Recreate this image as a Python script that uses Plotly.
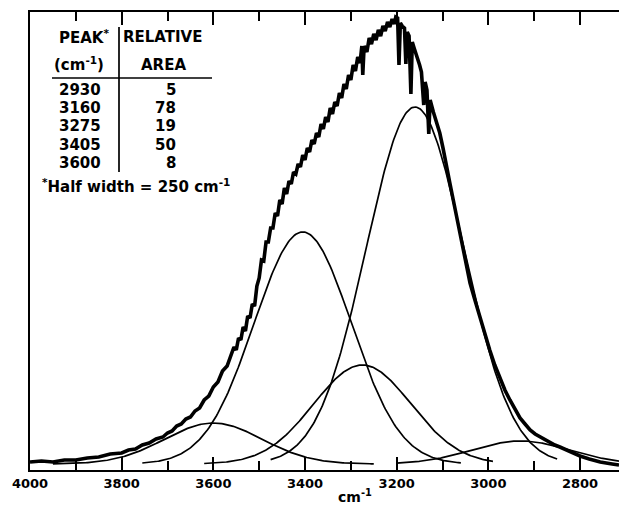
import numpy as np
import plotly.graph_objects as go

# ---- table / band parameters ----
peak_cm = [2930, 3160, 3275, 3405, 3600]
rel_area = [5, 78, 19, 50, 8]
band_height = [23, 357, 99, 232, 41]
half_width = 250
band_from = [3200, 3475, 3620, 3755, 3950]
band_to = [2715, 2850, 2990, 3060, 3250]

obs_cm = [4000, 3975, 3950, 3925, 3900, 3875, 3850, 3825, 3800, 3785, 3770, 3755, 3740, 3725,
          3710, 3700, 3690, 3680, 3670, 3660, 3650, 3640, 3630, 3620, 3610, 3600, 3590, 3580,
          3570, 3560, 3555, 3550, 3545, 3540, 3535, 3530, 3525, 3520, 3515, 3510, 3505, 3500,
          3495, 3490, 3485, 3480, 3475, 3470, 3465, 3460, 3455, 3450, 3445, 3440, 3435, 3430,
          3425, 3420, 3415, 3410, 3405, 3400, 3395, 3390, 3385, 3380, 3375, 3370, 3365, 3360,
          3355, 3350, 3345, 3340, 3335, 3330, 3325, 3320, 3315, 3310, 3305, 3300, 3295, 3290,
          3285, 3280, 3276, 3274, 3271, 3265, 3260, 3255, 3250, 3245, 3240, 3235, 3230, 3225,
          3220, 3215, 3210, 3205, 3202, 3198, 3195, 3192, 3188, 3183, 3180, 3177, 3173, 3169,
          3166, 3162, 3158, 3154, 3150, 3146, 3141, 3138, 3134, 3130, 3127, 3120, 3113, 3106,
          3099, 3092, 3084, 3077, 3070, 3062, 3055, 3048, 3040, 3030, 3019, 3008, 2997, 2986,
          2975, 2964, 2953, 2942, 2931, 2920, 2909, 2898, 2887, 2870, 2855, 2844, 2820, 2800,
          2780, 2756, 2730, 2715]
obs_abs = [2, 3, 2, 4, 4, 6, 7, 10, 11, 14, 15, 19, 21, 25,
           27, 31, 33, 38, 40, 45, 47, 53, 56, 64, 68, 77, 82, 93,
           98, 110, 117, 114, 126, 124, 137, 133, 148, 146, 160, 158, 178, 186,
           204, 203, 222, 222, 236, 236, 251, 248, 264, 260, 276, 270, 283, 280,
           292, 290, 300, 297, 309, 304, 316, 312, 324, 320, 331, 327, 340, 335,
           347, 342, 356, 350, 362, 358, 371, 366, 380, 375, 389, 384, 399, 393,
           407, 401, 418, 389, 418, 412, 426, 420, 430, 424, 434, 428, 438, 433,
           442, 437, 445, 440, 447, 446, 399, 441, 438, 436, 400, 432, 428, 370,
           422, 416, 411, 405, 399, 392, 359, 382, 374, 330, 364, 352, 341, 331,
           316, 298, 281, 265, 249, 231, 215, 199, 181, 165, 147, 130, 114, 99,
           86, 74, 64, 55, 46, 40, 34, 30, 27, 23, 19, 17, 12, 8,
           5, 2, 0, -1]

x_ticks = [4000, 3800, 3600, 3400, 3200, 3000, 2800]

W, H = 619, 510
ML, MR, MT, MB = 30, 0, 12, 40
PW, PH = W - ML - MR, H - MT - MB


def px(x):
    return (x - ML) / PW


def py(y):
    return (H - MB - y) / PH


def band(c, h, x):
    return h * np.exp(-4 * np.log(2) * ((x - c) / half_width) ** 2)


fig = go.Figure()
line = dict(color="black", width=1.7)

for c, h, a, b in zip(peak_cm, band_height, band_from, band_to):
    xs = np.linspace(a, b, 250)
    fig.add_trace(go.Scatter(x=xs, y=band(c, h, xs), mode="lines", line=line,
                             hoverinfo="skip", showlegend=False))

fig.add_trace(go.Scatter(x=obs_cm, y=obs_abs, mode="lines",
                         line=dict(color="black", width=3.6), showlegend=False))

tf = dict(family="DejaVu Sans", size=15, color="black", weight="bold")
ann = []


def text(t, x, y, xanchor="center", size=15):
    ann.append(dict(text=t, x=px(x), y=py(y), xref="paper", yref="paper", showarrow=False,
                    xanchor=xanchor, yanchor="middle", font=dict(tf, size=size)))


text("PEAK<sup>*</sup>", 57, 37, "left")
text("RELATIVE", 121, 37, "left")
text("(cm<sup>-1</sup>)", 52, 64, "left")
text("AREA", 163, 65)
for i, (p, a) in enumerate(zip(peak_cm, rel_area)):
    yy = 90 + i * 18.2
    text(str(p), 80, yy)
    text(str(a), 178, yy, "right")
text("<sup>*</sup>Half width = " + str(half_width) + " cm<sup>-1</sup>", 40, 186, "left")
text("cm<sup>-1</sup>", 355, 496, size=14)

shapes = [
    dict(type="line", xref="paper", yref="paper", x0=px(119), x1=px(119), y0=py(27), y1=py(172),
         line=dict(color="black", width=1.7)),
    dict(type="line", xref="paper", yref="paper", x0=px(52), x1=px(212), y0=py(78), y1=py(78),
         line=dict(color="black", width=1.7)),
]

fig.update_layout(
    width=W, height=H, margin=dict(l=ML, r=MR, t=MT, b=MB),
    paper_bgcolor="white", plot_bgcolor="white",
    annotations=ann, shapes=shapes, showlegend=False,
    xaxis=dict(range=[4000, 2715], tickvals=x_ticks, ticktext=[str(v) for v in x_ticks],
               ticks="inside", ticklen=13, tickwidth=2, tickcolor="black",
               minor=dict(dtick=100, tick0=4000, ticks="inside", ticklen=9, tickwidth=2,
                          tickcolor="black"),
               showline=True, linecolor="black", linewidth=2, mirror="ticks",
               showgrid=False, zeroline=False,
               tickfont=dict(family="DejaVu Sans", size=13, color="black", weight="bold")),
    yaxis=dict(range=[-6, 452], showline=True, linecolor="black", linewidth=2,
               ticks="", showticklabels=False, showgrid=False, zeroline=False),
)

fig.write_html("out.html", config={"displayModeBar": False},
               post_script="document.body.style.margin='0';document.body.style.overflow='hidden';")
